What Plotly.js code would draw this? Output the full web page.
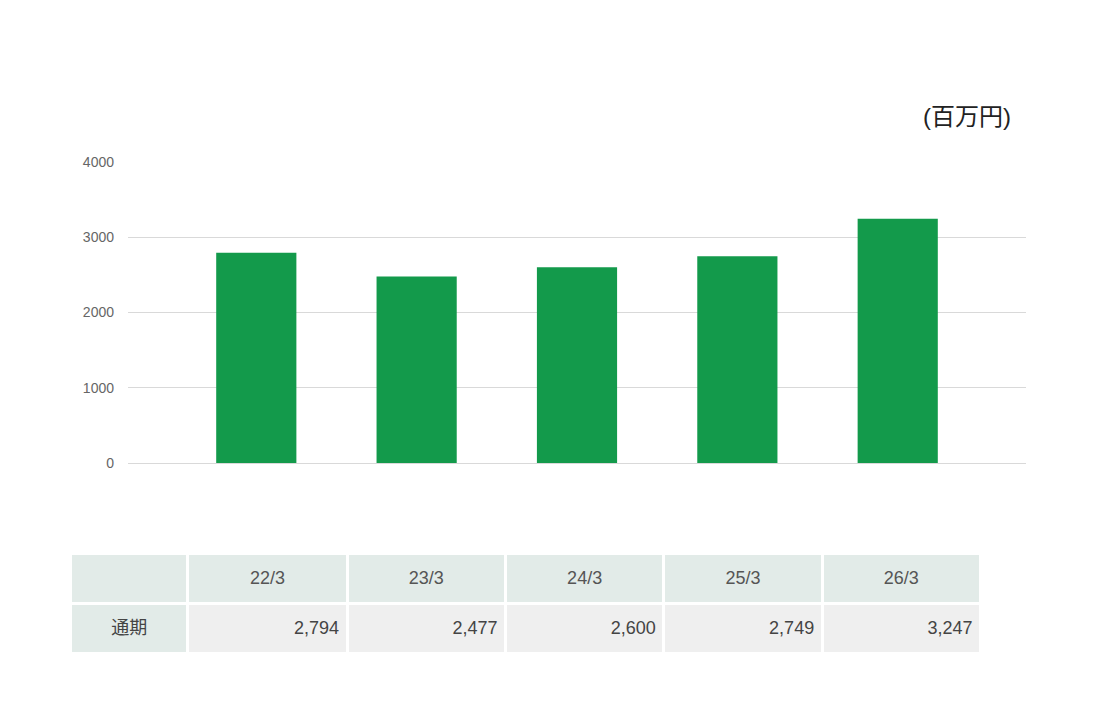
<!DOCTYPE html>
<html>
<head>
<meta charset="utf-8">
<script src="https://cdn.plot.ly/plotly-3.0.1.min.js"></script>
<style>
  html, body { margin: 0; padding: 0; background: #fff; }
  #chart { width: 1117px; height: 720px; }
</style>
</head>
<body>
<div id="chart"></div>
<script>
// fiscal periods and sales (百万円)
const periods = ['22/3', '23/3', '24/3', '25/3', '26/3'];
const sales = [2794, 2477, 2600, 2749, 3247];
const rowLabel = '通期';
const yTicks = [0, 1000, 2000, 3000, 4000];

const W = 1117, H = 720;
const font = 'Liberation Sans, Arial, "Noto Sans CJK JP", sans-serif';
const colWidths = [117, 159, 158, 158, 158, 158];

const bars = {
    type: 'bar',
    x: periods,
    y: sales,
    marker: { color: '#139a4b' },
    hoverinfo: 'x+y',
    xaxis: 'x',
    yaxis: 'y'
};

const fmt = v => v.toLocaleString('en-US');
const headerVals = [''].concat(periods);
const cellVals = [[rowLabel]].concat(sales.map(v => [fmt(v)]));

// plotly tables put text at the top of a cell, so the fills and the
// text are two tables, the text one pushed down a little to sit centred
function makeTable(top, withText) {
    const clear = 'rgba(0,0,0,0)';
    return {
        type: 'table',
        domain: { x: [70.5 / W, 981 / W], y: [1 - (top + 102) / H, 1 - top / H] },
        columnwidth: colWidths,
        header: {
            values: withText ? headerVals : headerVals.map(() => ''),
            align: 'center',
            height: 50,
            fill: { color: withText ? clear : '#e2ebe8' },
            line: { color: withText ? clear : '#ffffff', width: 3 },
            font: { family: font, size: 18, color: '#555555' }
        },
        cells: {
            values: withText ? cellVals : cellVals.map(() => ['']),
            align: ['center', 'right', 'right', 'right', 'right', 'right'],
            height: 50,
            fill: { color: withText ? clear : ['#e2ebe8', '#efefef', '#efefef', '#efefef', '#efefef', '#efefef'] },
            line: { color: withText ? clear : '#ffffff', width: 3 },
            font: { family: font, size: 18, color: '#444444' }
        }
    };
}

const layout = {
    width: W,
    height: H,
    margin: { l: 0, r: 0, t: 0, b: 0 },
    paper_bgcolor: '#ffffff',
    plot_bgcolor: '#ffffff',
    showlegend: false,
    bargap: 0.5,
    font: { family: font, color: '#555555' },
    xaxis: {
        domain: [128 / W, 1026 / W],
        range: [-0.8, 4.8],
        showticklabels: false,
        showgrid: false,
        zeroline: false,
        showline: false,
        fixedrange: true
    },
    yaxis: {
        domain: [1 - 463 / H, 1 - 162 / H],
        range: [0, 4000],
        tickvals: yTicks,
        ticktext: yTicks.map(String),
        tickfont: { size: 14, color: '#666666' },
        gridcolor: '#d9d9d9',
        gridwidth: 1,
        zeroline: true,
        zerolinecolor: '#d9d9d9',
        zerolinewidth: 1,
        showline: false,
        ticks: '',
        ticklabelstandoff: 13,
        fixedrange: true
    },
    annotations: [{
        text: '(百万円)',
        xref: 'paper', yref: 'paper',
        x: 1013 / W, y: 1 - 117 / H,
        xanchor: 'right', yanchor: 'middle',
        showarrow: false,
        font: { family: font, size: 24, color: '#222222' }
    }]
};

Plotly.newPlot('chart', [bars, makeTable(553, false), makeTable(562, true)], layout,
    { displayModeBar: false, staticPlot: true });
</script>
</body>
</html>
